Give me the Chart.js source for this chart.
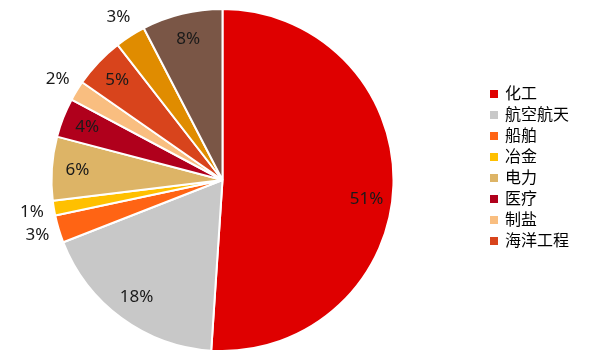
<!DOCTYPE html>
<html>
<head>
<meta charset="utf-8">
<script src="https://cdn.jsdelivr.net/npm/chart.js@4.4.1/dist/chart.umd.min.js"></script>
<style>
  body { margin: 0; background: #fff; }
  #wrap { position: relative; width: 603px; height: 355px; }
  #legend { position: absolute; left: 490px; top: 82px; font-family: "Noto Sans CJK SC", sans-serif; font-size: 16px; color: #000; }
  #legend div { height: 21px; line-height: 21px; white-space: nowrap; }
  #legend span { display: inline-block; width: 8px; height: 8px; margin-right: 7px; vertical-align: 1px; }
</style>
</head>
<body>
<div id="wrap">
  <canvas id="pie"></canvas>
  <div id="legend"></div>
</div>
<script>
// data, clockwise from 12 o'clock
var categories = ["化工", "航空航天", "船舶", "冶金", "电力", "医疗", "制盐", "海洋工程", "其他1", "其他2"];
var shares = [51, 18, 2.6, 1.4, 6, 3.7, 1.9, 4.8, 2.9, 7.6];
var colors = ["#DF0000", "#C8C8C8", "#FF6414", "#FFC000", "#DDB466", "#B0001C", "#F9BE80", "#D8441C", "#E08C00", "#7A5646"];
var legendCount = 8; // only the first 8 show in the legend

// legend as plain html
var legendHtml = "";
for (var i = 0; i < legendCount; i++) {
  legendHtml += '<div><span style="background:' + colors[i] + '"></span>' + categories[i] + '</div>';
}
document.getElementById("legend").innerHTML = legendHtml;

// percentage labels, small slices go outside
var pctLabels = {
  id: "pctLabels",
  afterDatasetsDraw: function (chart) {
    var ctx = chart.ctx;
    var meta = chart.getDatasetMeta(0);
    var total = shares.reduce(function (a, b) { return a + b; }, 0);
    ctx.save();
    ctx.font = "17px 'Noto Sans', sans-serif";
    ctx.fillStyle = "#1a1a1a";
    ctx.textAlign = "center";
    ctx.textBaseline = "middle";
    meta.data.forEach(function (arc, i) {
      var p = arc.getProps(["x", "y", "startAngle", "endAngle", "outerRadius"], true);
      var mid = (p.startAngle + p.endAngle) / 2;
      var pct = shares[i] / total * 100;
      var r = pct < 3 ? p.outerRadius * 1.13 : p.outerRadius * 0.85;
      if (i == 0) mid += 0.1; // big slice label sits a bit lower
      ctx.fillText(Math.round(pct) + "%", p.x + Math.cos(mid) * r, p.y + Math.sin(mid) * r);
    });
    ctx.restore();
  }
};

new Chart(document.getElementById("pie"), {
  type: "pie",
  data: {
    labels: categories,
    datasets: [{
      data: shares,
      backgroundColor: colors,
      borderColor: "#ffffff",
      borderWidth: 2
    }]
  },
  options: {
    responsive: true,
    maintainAspectRatio: false,
    animation: false,
    layout: { padding: { left: 50, right: 208, top: 8, bottom: 3 } },
    plugins: {
      legend: { display: false },
      tooltip: { enabled: false }
    }
  },
  plugins: [pctLabels]
});
</script>
</body>
</html>
